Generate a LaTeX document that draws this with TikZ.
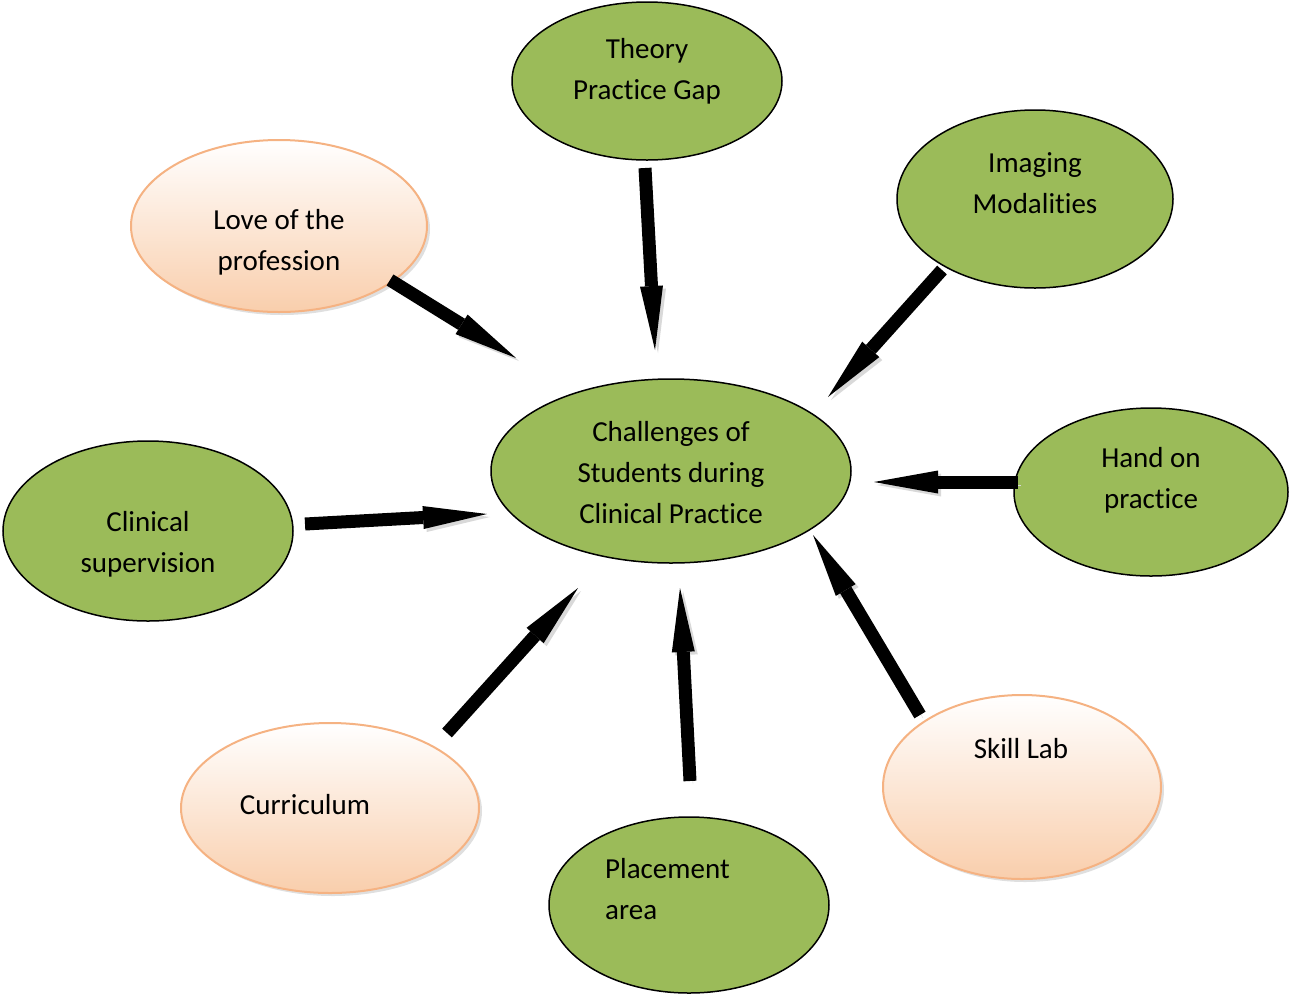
\documentclass[tikz,border=0pt]{standalone}
\usepackage{fontspec}
\setmainfont[Ligatures=NoCommon,RawFeature={-liga;-calt;-clig}]{Carlito}
\usetikzlibrary{arrows.meta,shapes.geometric,shadows}
\definecolor{leaf}{RGB}{155,187,89}
\definecolor{peachline}{RGB}{245,178,130}
\definecolor{peachfill}{RGB}{249,206,172}
\tikzset{
  greenell/.style={ellipse, draw=black, line width=1.5pt, fill=leaf, inner sep=0pt},
  peachell/.style={ellipse, draw=peachline, line width=2pt, top color=white, bottom color=peachfill, inner sep=0pt,
    drop shadow={shadow xshift=3pt, shadow yshift=-3pt, opacity=0.25}},
  lbl/.style={font=\fontsize{29}{41}\selectfont, align=center, inner sep=0pt, text=black},
  blockarrow/.style={draw=black, line width=13pt, -{Triangle[width=23pt,length=64pt,line width=0pt]},
    preaction={draw=black!15, transform canvas={shift={(3pt,-3pt)}}}},
}
\begin{document}
\begin{tikzpicture}[x=1pt,y=-1pt]
\useasboundingbox (0,0) rectangle (1291,994);
% ellipses
\node[greenell, minimum width=360pt, minimum height=184pt] (core) at (671,471) {};
\node[greenell, minimum width=270pt, minimum height=158pt] (theory) at (647,81) {};
\node[greenell, minimum width=276pt, minimum height=178pt] (imaging) at (1035,199) {};
\node[peachell, minimum width=296pt, minimum height=172pt] (love) at (279,226) {};
\node[greenell, minimum width=274pt, minimum height=168pt] (hand) at (1151,492) {};
\node[greenell, minimum width=290pt, minimum height=180pt] (clinical) at (148,531) {};
\node[peachell, minimum width=298pt, minimum height=170pt] (curric) at (330,808) {};
\node[greenell, minimum width=280pt, minimum height=176pt] (place) at (689,905) {};
\node[peachell, minimum width=278pt, minimum height=184pt] (skill) at (1022,787) {};
% texts
\node[lbl] (core-t) at (671,473) {Challenges of\\Students during\\Clinical Practice};
\node[lbl] (theory-t) at (647,71.5) {Theory\\Practice Gap};
\node[lbl] (imaging-t) at (1035,183.5) {Imaging\\Modalities};
\node[lbl] (love-t) at (279,242.5) {Love of the\\profession};
\node[lbl] (hand-t) at (1151,480) {Hand on\\practice};
\node[lbl] (clinical-t) at (148,544.5) {Clinical\\supervision};
\node[lbl] (curric-t) at (305,805) {Curriculum};
\node[lbl, align=left, anchor=west] (place-t) at (605,889) {Placement\\area};
\node[lbl] (skill-t) at (1021,749) {Skill Lab};
% arrow ends
\coordinate (love-o) at (390,280);   \coordinate (core-i1) at (516,358);
\coordinate (theory-o) at (645,168); \coordinate (core-i2) at (655,350);
\coordinate (imaging-o) at (942,270);\coordinate (core-i3) at (828,397);
\coordinate (hand-o) at (1018,482);  \coordinate (core-i4) at (874,482);
\coordinate (clinical-o) at (305,524);\coordinate (core-i5) at (487,514);
\coordinate (curric-o) at (447,733); \coordinate (core-i6) at (578,588);
\coordinate (place-o) at (690,781);  \coordinate (core-i7) at (680,588);
\coordinate (skill-o) at (920,715);  \coordinate (core-i8) at (813,535);
\draw[blockarrow] (love-o) -- (core-i1);
\draw[blockarrow] (theory-o) -- (core-i2);
\draw[blockarrow] (imaging-o) -- (core-i3);
\draw[blockarrow] (hand-o) -- (core-i4);
\draw[blockarrow] (clinical-o) -- (core-i5);
\draw[blockarrow] (curric-o) -- (core-i6);
\draw[blockarrow] (place-o) -- (core-i7);
\draw[blockarrow] (skill-o) -- (core-i8);
\end{tikzpicture}
\end{document}
